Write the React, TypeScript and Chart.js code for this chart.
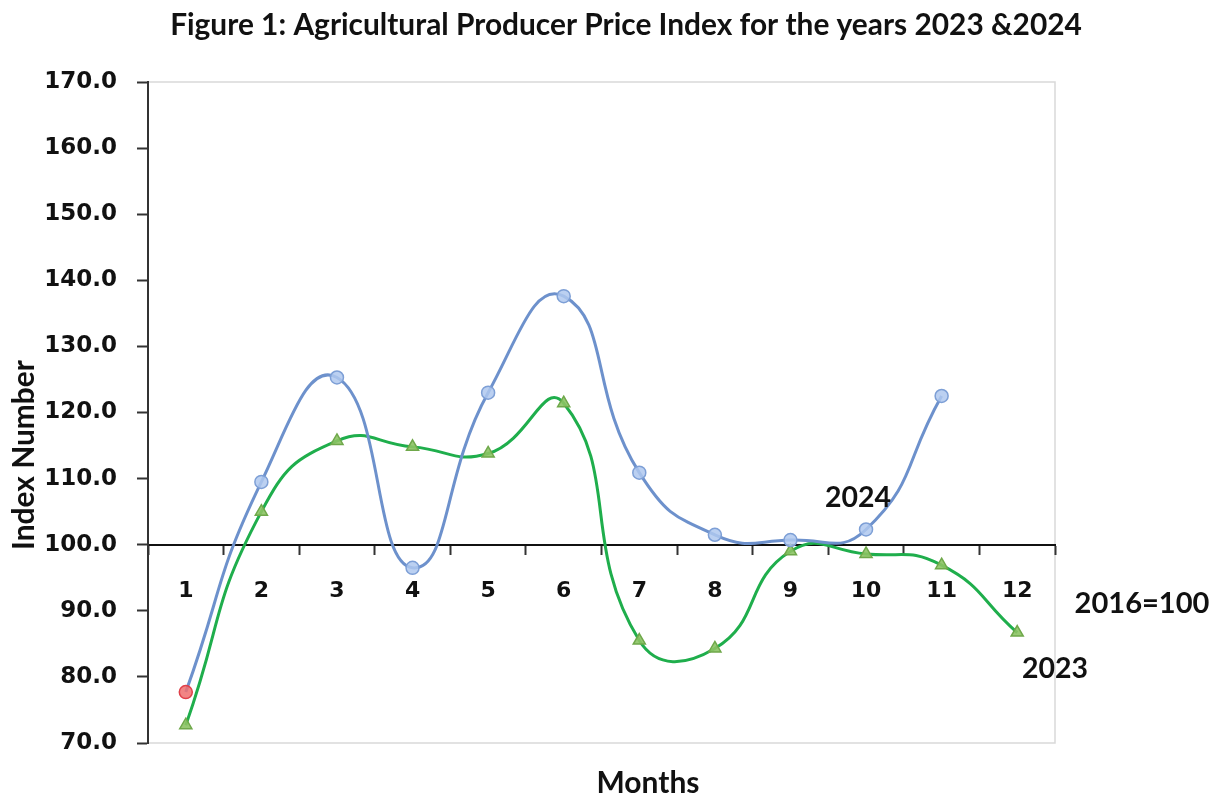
import React, { useEffect, useRef } from "react";
import { Chart, registerables } from "chart.js";

Chart.register(...registerables);

const months = ["1", "2", "3", "4", "5", "6", "7", "8", "9", "10", "11", "12"];
const index2024 = [77.7, 109.5, 125.3, 96.5, 123.0, 137.6, 110.9, 101.5, 100.7, 102.3, 122.5, null];
const index2023 = [72.7, 105.0, 115.7, 114.8, 113.8, 121.4, 85.5, 84.3, 99.0, 98.6, 96.9, 86.7];
const yMin = 70;
const yMax = 170;
const yStep = 10;
const baseValue = 100;

const titleText = "Figure 1: Agricultural Producer Price Index for the years 2023 &2024";
const yTitleText = "Index Number";
const xTitleText = "Months";
const label2024 = "2024";
const label2023 = "2023";
const baseLabel = "2016=100";

const CAL = "Lato, 'Open Sans', sans-serif";
const VER = "'DejaVu Sans', Verdana, sans-serif";

function fitText(ctx: CanvasRenderingContext2D, text: string, cx: number, cy: number, width: number, rotate = false) {
  ctx.save();
  ctx.font = `bold 20px ${CAL}`;
  const w = ctx.measureText(text).width;
  const size = (20 * width) / w;
  ctx.font = `bold ${size}px ${CAL}`;
  ctx.fillStyle = "#111";
  ctx.textAlign = "center";
  ctx.textBaseline = "middle";
  ctx.translate(cx, cy);
  if (rotate) ctx.rotate(-Math.PI / 2);
  ctx.fillText(text, 0, 0);
  ctx.restore();
}

const decor = {
  id: "decor",
  beforeDraw(chart: any) {
    const { ctx, chartArea: a } = chart;
    ctx.save();
    ctx.fillStyle = "#fff";
    ctx.fillRect(0, 0, chart.width, chart.height);
    ctx.strokeStyle = "#d9d9d9";
    ctx.lineWidth = 1.5;
    ctx.strokeRect(a.left, a.top, a.right - a.left, a.bottom - a.top);
    ctx.restore();
  },
  afterDraw(chart: any) {
    const { ctx } = chart;
    fitText(ctx, titleText, 626, 25, 912);
    fitText(ctx, yTitleText, 24, 455, 190, true);
    fitText(ctx, xTitleText, 648, 783, 103);
    fitText(ctx, label2024, 858, 498, 66);
    fitText(ctx, label2023, 1055, 669, 66);
    fitText(ctx, baseLabel, 1142, 604, 135);
  },
};

export default function App() {
  const ref = useRef<HTMLCanvasElement>(null);
  useEffect(() => {
    if (!ref.current) return;
    const chart = new Chart(ref.current, {
      type: "line",
      data: {
        labels: months,
        datasets: [
          {
            label: "2024",
            data: index2024,
            borderColor: "#6d91cc",
            borderWidth: 3,
            tension: 0.5,
            pointStyle: "circle",
            pointRadius: 6.5,
            pointBorderWidth: 1.5,
            pointBackgroundColor: index2024.map((_, i) => (i === 0 ? "rgba(240,110,110,0.85)" : "rgba(175,200,238,0.85)")),
            pointBorderColor: index2024.map((_, i) => (i === 0 ? "#e0404a" : "#7d9fd6")),
            spanGaps: false,
          },
          {
            label: "2023",
            data: index2023,
            borderColor: "#1fae4c",
            borderWidth: 3,
            tension: 0.5,
            pointStyle: "triangle",
            pointRadius: 7,
            pointBorderWidth: 1.5,
            pointBackgroundColor: "rgba(140,195,100,0.9)",
            pointBorderColor: "#6fa84a",
          },
        ],
      },
      options: {
        animation: false,
        responsive: false,
        maintainAspectRatio: false,
        layout: { padding: { left: 0, top: 82, right: 167, bottom: 52 } },
        plugins: { legend: { display: false }, tooltip: { enabled: false }, title: { display: false } },
        scales: {
          x: {
            type: "category",
            position: { y: baseValue } as any,
            offset: true,
            grid: {
              display: true,
              drawOnChartArea: false,
              drawTicks: true,
              tickLength: 9,
              tickColor: "#333",
              tickWidth: 2,
              offset: true,
            },
            border: { display: true, color: "#111", width: 2 },
            ticks: {
              padding: 24,
              autoSkip: false,
              maxRotation: 0,
              color: "#111",
              font: { family: VER, weight: "bold", size: 22 },
            },
          },
          y: {
            min: yMin,
            max: yMax,
            ticks: {
              stepSize: yStep,
              padding: 20,
              color: "#111",
              font: { family: VER, weight: "bold", size: 23 },
              callback: (v: any) => Number(v).toFixed(1),
            },
            grid: {
              drawOnChartArea: false,
              drawTicks: true,
              tickLength: 11,
              tickColor: "#333",
              tickWidth: 2,
            },
            border: { display: true, color: "#333", width: 2 },
            afterFit: (s: any) => {
              s.width = 148;
            },
          },
        },
      },
      plugins: [decor],
    });
    return () => chart.destroy();
  }, []);
  return (
    <div style={{ position: "absolute", left: 0, top: 0, width: 1222, height: 795, background: "#fff" }}>
      <canvas ref={ref} width={1222} height={795} style={{ width: 1222, height: 795 }} />
    </div>
  );
}
